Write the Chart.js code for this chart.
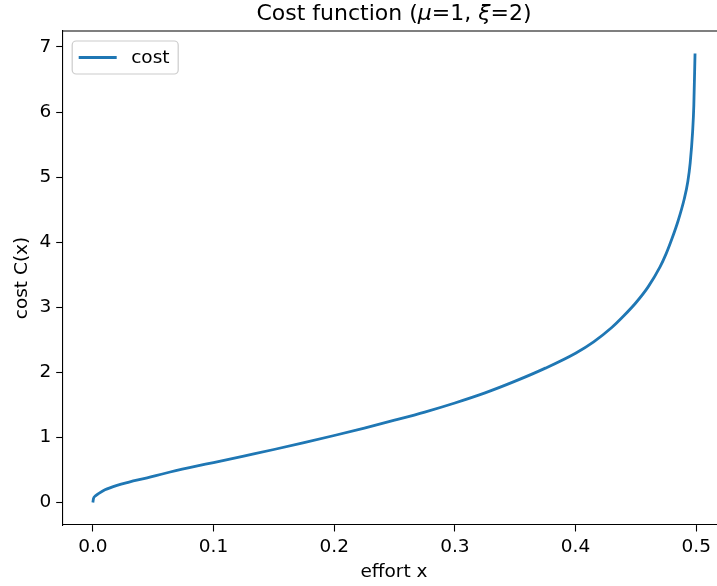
<!DOCTYPE html>
<html>
<head>
<meta charset="utf-8">
<script src="https://cdn.jsdelivr.net/npm/chart.js@4.4.1/dist/chart.umd.min.js"></script>
<style>
  html, body { margin: 0; padding: 0; background: #fff; }
  #wrap { width: 717px; height: 586px; overflow: hidden; position: relative; }
  canvas { display: block; }
</style>
</head>
<body>
<div id="wrap"><canvas id="chartCanvas" width="740" height="586"></canvas></div>
<script>
// values
var effort = [0, 0.0005, 0.002, 0.005, 0.01, 0.02, 0.03, 0.045, 0.06, 0.08,
    0.1, 0.125, 0.15, 0.175, 0.2, 0.225, 0.25, 0.275, 0.3, 0.325,
    0.35, 0.375, 0.4, 0.415, 0.43, 0.44, 0.45, 0.46, 0.47, 0.475,
    0.48, 0.485, 0.49, 0.493, 0.495, 0.497, 0.498, 0.499]
var cost = [0, 0.06, 0.10, 0.14, 0.195, 0.265, 0.315, 0.38, 0.45, 0.535,
    0.615, 0.715, 0.815, 0.92, 1.03, 1.145, 1.265, 1.39, 1.53, 1.685,
    1.865, 2.065, 2.295, 2.47, 2.69, 2.87, 3.07, 3.31, 3.62, 3.82,
    4.06, 4.33, 4.66, 4.93, 5.22, 5.70, 6.10, 6.90]
var xTicks = [0, 0.1, 0.2, 0.3, 0.4, 0.5]
var yTicks = [0, 1, 2, 3, 4, 5, 6, 7]
var seriesName = 'cost'

var FONT = "'DejaVu Sans', sans-serif"
var BLUE = '#1f77b4'

var points = effort.map(function (x, i) { return { x: x, y: cost[i] } })

// matplotlib-like frame, title and legend
var framePlugin = {
    id: 'frame',
    afterDraw: function (chart) {
        var ctx = chart.ctx
        var a = chart.chartArea
        ctx.save()
        ctx.strokeStyle = '#000'
        ctx.lineWidth = 1.1
        ctx.beginPath()
        ctx.moveTo(a.left, a.top)
        ctx.lineTo(a.right, a.top)
        ctx.lineTo(a.right, a.bottom)
        ctx.stroke()

        // title with italic math symbols
        var parts = [
            ['Cost function (', false], ['\u03bc', true], ['=1, ', false],
            ['\u03be', true], ['=2)', false]
        ]
        var size = 22
        var total = 0
        parts.forEach(function (p) {
            ctx.font = (p[1] ? 'italic ' : '') + size + 'px ' + FONT
            total += ctx.measureText(p[0]).width
        })
        var x = (a.left + a.right) / 2 - total / 2
        ctx.fillStyle = '#000'
        ctx.textBaseline = 'middle'
        ctx.textAlign = 'left'
        parts.forEach(function (p) {
            ctx.font = (p[1] ? 'italic ' : '') + size + 'px ' + FONT
            ctx.fillText(p[0], x, 14)
            x += ctx.measureText(p[0]).width
        })

        // legend box, upper left
        var bx = a.left + 9.5, by = a.top + 10, bw = 106, bh = 33, r = 4
        ctx.beginPath()
        ctx.roundRect(bx, by, bw, bh, r)
        ctx.fillStyle = 'rgba(255,255,255,0.8)'
        ctx.fill()
        ctx.strokeStyle = '#cccccc'
        ctx.lineWidth = 1.2
        ctx.stroke()
        var ly = by + bh / 2
        ctx.beginPath()
        ctx.moveTo(bx + 6.5, ly)
        ctx.lineTo(bx + 44.5, ly)
        ctx.strokeStyle = BLUE
        ctx.lineWidth = 2.8
        ctx.stroke()
        ctx.font = '18.5px ' + FONT
        ctx.fillStyle = '#000'
        ctx.fillText(seriesName, bx + 59, ly + 1)
        ctx.restore()
    }
}

new Chart(document.getElementById('chartCanvas'), {
    type: 'line',
    data: {
        datasets: [{
            label: seriesName,
            data: points,
            borderColor: BLUE,
            borderWidth: 2.8,
            pointRadius: 0,
            fill: false,
            cubicInterpolationMode: 'monotone'
        }]
    },
    options: {
        responsive: false,
        animation: false,
        events: [],
        layout: { padding: { top: 31, right: 14.8, left: 0, bottom: 0 } },
        plugins: {
            legend: { display: false },
            title: { display: false },
            tooltip: { enabled: false }
        },
        scales: {
            x: {
                type: 'linear',
                min: -0.025,
                max: 0.524,
                afterFit: function (s) { s.height = 61 },
                afterBuildTicks: function (s) { s.ticks = xTicks.map(function (v) { return { value: v } }) },
                grid: { drawOnChartArea: false, drawTicks: true, tickLength: 6.5, tickWidth: 1.1, tickColor: '#000' },
                border: { color: '#000', width: 1.1 },
                ticks: {
                    padding: 5,
                    color: '#000',
                    font: { family: FONT, size: 18.5 },
                    maxRotation: 0,
                    callback: function (v) { return v.toFixed(1) }
                },
                title: {
                    display: true,
                    text: 'effort x',
                    color: '#000',
                    font: { family: FONT, size: 18.5 },
                    padding: { top: 0, bottom: 2.9 }
                }
            },
            y: {
                min: -0.345,
                max: 7.245,
                afterFit: function (s) { s.width = 62.7 },
                afterBuildTicks: function (s) { s.ticks = yTicks.map(function (v) { return { value: v } }) },
                grid: { drawOnChartArea: false, drawTicks: true, tickLength: 6.5, tickWidth: 1.1, tickColor: '#000' },
                border: { color: '#000', width: 1.1 },
                ticks: {
                    padding: 5,
                    color: '#000',
                    font: { family: FONT, size: 18.5 },
                    callback: function (v) { return String(v) }
                },
                title: {
                    display: true,
                    text: 'cost C(x)',
                    color: '#000',
                    font: { family: FONT, size: 18.5 },
                    padding: { top: 10.9, bottom: 0 }
                }
            }
        }
    },
    plugins: [framePlugin]
})
</script>
</body>
</html>
